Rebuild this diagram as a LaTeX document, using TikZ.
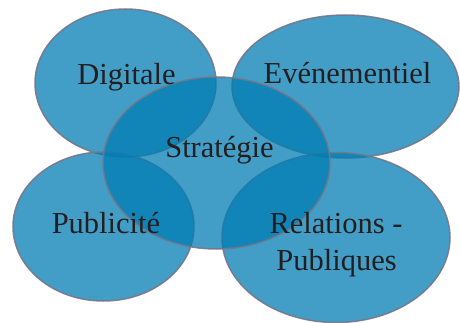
\documentclass[tikz,border=0pt]{standalone}
\usepackage{fontspec}
\setmainfont{Liberation Serif}
\usetikzlibrary{shapes.geometric}
\definecolor{bubblefill}{RGB}{0,124,178}
\definecolor{bubbleline}{RGB}{118,118,138}
\definecolor{labeltext}{RGB}{35,31,32}
\tikzset{
  bubble/.style={ellipse, inner sep=0pt, fill=bubblefill, fill opacity=0.74,
    draw=bubbleline, draw opacity=0.9, line width=1.5pt},
  bubblelabel/.style={anchor=base, inner sep=0pt, text=labeltext,
    font=\fontsize{30.5}{37}\selectfont, align=center}
}
\begin{document}
\begin{tikzpicture}[x=1pt,y=-1pt]
\useasboundingbox (0,0) rectangle (460,323);
\node[bubble, minimum width=181pt, minimum height=148pt] (dig) at (125.5,83) {};
\node[bubble, minimum width=227pt, minimum height=143pt] (evt) at (345.5,86.5) {};
\node[bubble, minimum width=181pt, minimum height=149pt] (pub) at (103.5,226.5) {};
\node[bubble, minimum width=228pt, minimum height=170pt] (rel) at (336,237.5) {};
\node[bubble, minimum width=227pt, minimum height=172pt] (strat) at (216.5,163) {};
\node[bubblelabel] (tdig) at (126.5,85) {Digitale};
\node[bubblelabel] (tevt) at (347.5,84) {Evénementiel};
\node[bubblelabel] (tstrat) at (219.5,157.5) {Stratégie};
\node[bubblelabel] (tpub) at (106,233) {Publicité};
\node[bubblelabel] (trel) at (336,233) {Relations -};
\node[bubblelabel] (trel2) at (336.5,270) {Publiques};
\end{tikzpicture}
\end{document}
